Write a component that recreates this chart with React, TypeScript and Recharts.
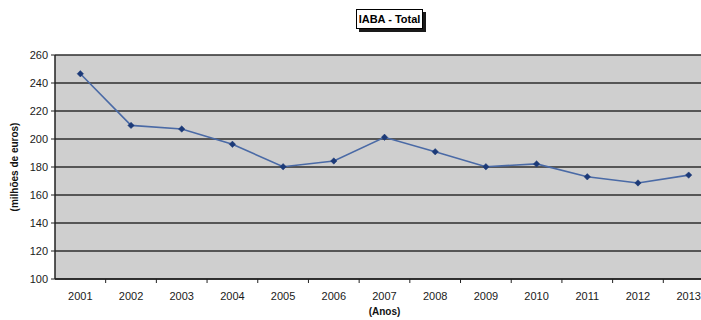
import React from "react";
import { LineChart, Line, XAxis, YAxis, CartesianGrid } from "recharts";

const years = ["2001", "2002", "2003", "2004", "2005", "2006", "2007", "2008", "2009", "2010", "2011", "2012", "2013"];
const totals = [246.6, 209.7, 207.1, 196.2, 180.2, 184.3, 201.2, 190.9, 180.2, 182.2, 173.0, 168.6, 174.2];
const yTicks = [100, 120, 140, 160, 180, 200, 220, 240, 260];

const data = years.map((y, i) => ({ year: y, value: totals[i] }));

const FONT = "'Liberation Sans', Arial, sans-serif";
const BAND = 50.67;

const XTick = (props: any) => {
  const { x, payload } = props;
  return (
    <g>
      <line x1={x + BAND / 2} x2={x + BAND / 2} y1={279} y2={283} stroke="#222" strokeWidth={1} />
      <text x={x} y={300} textAnchor="middle" fontFamily={FONT} fontSize={11} fill="#1a1a1a">
        {payload.value}
      </text>
    </g>
  );
};

const Diamond = (props: any) => {
  const { cx, cy, index } = props;
  if (cx == null || cy == null) return <g key={index} />;
  const r = 3.2;
  return (
    <path
      key={index}
      d={`M${cx},${cy - r}L${cx + r},${cy}L${cx},${cy + r}L${cx - r},${cy}Z`}
      fill="#1c3a78"
      stroke="#1c3a78"
      strokeWidth={0.5}
    />
  );
};

export default function App() {
  return (
    <div
      style={{
        position: "fixed",
        left: 0,
        top: 0,
        width: 701,
        height: 320,
        overflow: "hidden",
        background: "#ffffff",
      }}
    >
      <div
        style={{
          position: "absolute",
          left: 356,
          top: 9,
          width: 65,
          height: 18,
          border: "1px solid #000",
          boxShadow: "3px 3px 0 #1a1a1a",
          background: "#fff",
          fontFamily: FONT,
          fontWeight: "bold",
          fontSize: 11,
          lineHeight: "18px",
          textAlign: "center",
          color: "#000",
          zIndex: 2,
        }}
      >
        IABA - Total
      </div>
      <LineChart
        width={714}
        height={320}
        data={data}
        margin={{ top: 55, right: 0, bottom: 0, left: 0 }}
      >
        <CartesianGrid vertical={false} stroke="#2e2e2e" strokeWidth={1.6} fill="#cfcfcf" fillOpacity={1} />
        <XAxis
          dataKey="year"
          axisLine={{ stroke: "#222", strokeWidth: 1.5 }}
          tickLine={false}
          tick={<XTick />}
          interval={0}
          height={41}
          padding={{ left: BAND / 2, right: BAND / 2 }}
          label={{
            value: "(Anos)",
            position: "insideBottom",
            offset: 5,
            style: { fontFamily: FONT, fontWeight: "bold", fontSize: 10, fill: "#111" },
          }}
        />
        <YAxis
          width={55}
          domain={[100, 260]}
          ticks={yTicks}
          interval={0}
          axisLine={{ stroke: "#222", strokeWidth: 1.5 }}
          tickLine={{ stroke: "#222" }}
          tickSize={4}
          tickMargin={3}
          tick={{ fontFamily: FONT, fontSize: 11, fill: "#1a1a1a" }}
          label={{
            value: "(milhões de euros)",
            angle: -90,
            position: "insideLeft",
            offset: 14,
            style: { fontFamily: FONT, fontWeight: "bold", fontSize: 10, fill: "#111", textAnchor: "middle" },
          }}
        />
        <Line
          type="linear"
          dataKey="value"
          stroke="#4a6aa6"
          strokeWidth={1.6}
          dot={<Diamond />}
          activeDot={false}
          isAnimationActive={false}
        />
      </LineChart>
    </div>
  );
}
